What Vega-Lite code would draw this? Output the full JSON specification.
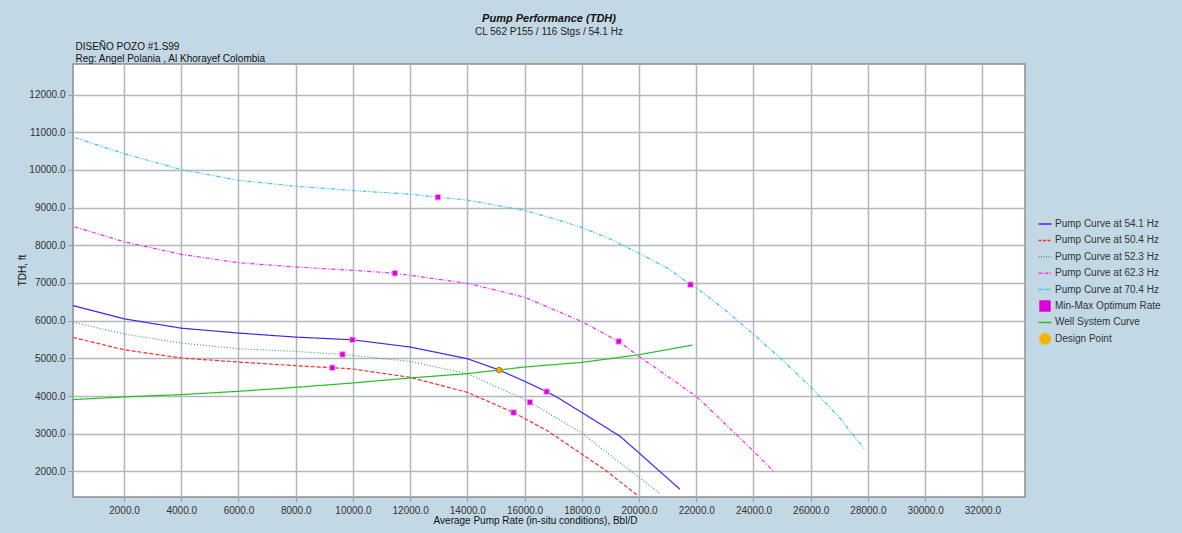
{
  "$schema": "https://vega.github.io/schema/vega-lite/v6.json",
  "width": 952,
  "height": 433,
  "autosize": {"type": "none"},
  "padding": {"left": 73, "top": 64, "right": 157, "bottom": 36},
  "background": "#c2d8e4",
  "config": {
    "font": "Liberation Sans",
    "view": {"fill": "white", "stroke": "#8c8c8c", "strokeWidth": 1.5}
  },
  "title": {
    "text": "Pump Performance (TDH)",
    "subtitle": "CL 562 P155 / 116 Stgs / 54.1 Hz",
    "anchor": "middle",
    "fontSize": 11,
    "fontStyle": "italic",
    "fontWeight": "bold",
    "color": "#111111",
    "subtitleFontSize": 10,
    "subtitleColor": "#222222",
    "subtitlePadding": 3,
    "offset": 4
  },
  "datasets": {
    "curves": [
      {"s": "Pump Curve at 54.1 Hz", "x": 220, "y": 6400},
      {"s": "Pump Curve at 54.1 Hz", "x": 2000, "y": 6048},
      {"s": "Pump Curve at 54.1 Hz", "x": 4000, "y": 5800},
      {"s": "Pump Curve at 54.1 Hz", "x": 6000, "y": 5670},
      {"s": "Pump Curve at 54.1 Hz", "x": 8000, "y": 5563},
      {"s": "Pump Curve at 54.1 Hz", "x": 9985, "y": 5492},
      {"s": "Pump Curve at 54.1 Hz", "x": 12000, "y": 5300},
      {"s": "Pump Curve at 54.1 Hz", "x": 14000, "y": 4990},
      {"s": "Pump Curve at 54.1 Hz", "x": 15110, "y": 4690},
      {"s": "Pump Curve at 54.1 Hz", "x": 16000, "y": 4390},
      {"s": "Pump Curve at 54.1 Hz", "x": 16770, "y": 4116},
      {"s": "Pump Curve at 54.1 Hz", "x": 17120, "y": 3975},
      {"s": "Pump Curve at 54.1 Hz", "x": 18000, "y": 3563},
      {"s": "Pump Curve at 54.1 Hz", "x": 19330, "y": 2935},
      {"s": "Pump Curve at 54.1 Hz", "x": 20000, "y": 2490},
      {"s": "Pump Curve at 54.1 Hz", "x": 21430, "y": 1524},
      {"s": "Pump Curve at 50.4 Hz", "x": 220, "y": 5553},
      {"s": "Pump Curve at 50.4 Hz", "x": 2000, "y": 5228},
      {"s": "Pump Curve at 50.4 Hz", "x": 4000, "y": 5008},
      {"s": "Pump Curve at 50.4 Hz", "x": 6000, "y": 4902},
      {"s": "Pump Curve at 50.4 Hz", "x": 8000, "y": 4804},
      {"s": "Pump Curve at 50.4 Hz", "x": 9280, "y": 4751},
      {"s": "Pump Curve at 50.4 Hz", "x": 10000, "y": 4717},
      {"s": "Pump Curve at 50.4 Hz", "x": 12000, "y": 4495},
      {"s": "Pump Curve at 50.4 Hz", "x": 14000, "y": 4098},
      {"s": "Pump Curve at 50.4 Hz", "x": 15615, "y": 3561},
      {"s": "Pump Curve at 50.4 Hz", "x": 16825, "y": 3066},
      {"s": "Pump Curve at 50.4 Hz", "x": 18000, "y": 2460},
      {"s": "Pump Curve at 50.4 Hz", "x": 18870, "y": 2008},
      {"s": "Pump Curve at 50.4 Hz", "x": 19970, "y": 1347},
      {"s": "Pump Curve at 52.3 Hz", "x": 220, "y": 5960},
      {"s": "Pump Curve at 52.3 Hz", "x": 2000, "y": 5643},
      {"s": "Pump Curve at 52.3 Hz", "x": 4000, "y": 5405},
      {"s": "Pump Curve at 52.3 Hz", "x": 6000, "y": 5254},
      {"s": "Pump Curve at 52.3 Hz", "x": 8000, "y": 5183},
      {"s": "Pump Curve at 52.3 Hz", "x": 9636, "y": 5103},
      {"s": "Pump Curve at 52.3 Hz", "x": 12000, "y": 4918},
      {"s": "Pump Curve at 52.3 Hz", "x": 14000, "y": 4593},
      {"s": "Pump Curve at 52.3 Hz", "x": 16000, "y": 3910},
      {"s": "Pump Curve at 52.3 Hz", "x": 16185, "y": 3833},
      {"s": "Pump Curve at 52.3 Hz", "x": 17990, "y": 3024},
      {"s": "Pump Curve at 52.3 Hz", "x": 19330, "y": 2230},
      {"s": "Pump Curve at 52.3 Hz", "x": 20730, "y": 1418},
      {"s": "Pump Curve at 62.3 Hz", "x": 276, "y": 8489},
      {"s": "Pump Curve at 62.3 Hz", "x": 2000, "y": 8093},
      {"s": "Pump Curve at 62.3 Hz", "x": 4000, "y": 7759},
      {"s": "Pump Curve at 62.3 Hz", "x": 6000, "y": 7537},
      {"s": "Pump Curve at 62.3 Hz", "x": 8000, "y": 7423},
      {"s": "Pump Curve at 62.3 Hz", "x": 10000, "y": 7336},
      {"s": "Pump Curve at 62.3 Hz", "x": 11465, "y": 7257},
      {"s": "Pump Curve at 62.3 Hz", "x": 12000, "y": 7200},
      {"s": "Pump Curve at 62.3 Hz", "x": 14000, "y": 6992},
      {"s": "Pump Curve at 62.3 Hz", "x": 16000, "y": 6622},
      {"s": "Pump Curve at 62.3 Hz", "x": 18000, "y": 5976},
      {"s": "Pump Curve at 62.3 Hz", "x": 19290, "y": 5447},
      {"s": "Pump Curve at 62.3 Hz", "x": 20000, "y": 5050},
      {"s": "Pump Curve at 62.3 Hz", "x": 21000, "y": 4521},
      {"s": "Pump Curve at 62.3 Hz", "x": 22000, "y": 3992},
      {"s": "Pump Curve at 62.3 Hz", "x": 23000, "y": 3270},
      {"s": "Pump Curve at 62.3 Hz", "x": 24000, "y": 2537},
      {"s": "Pump Curve at 62.3 Hz", "x": 24690, "y": 2008},
      {"s": "Pump Curve at 70.4 Hz", "x": 276, "y": 10854},
      {"s": "Pump Curve at 70.4 Hz", "x": 2000, "y": 10431},
      {"s": "Pump Curve at 70.4 Hz", "x": 4000, "y": 10008},
      {"s": "Pump Curve at 70.4 Hz", "x": 6000, "y": 9725},
      {"s": "Pump Curve at 70.4 Hz", "x": 8000, "y": 9566},
      {"s": "Pump Curve at 70.4 Hz", "x": 10000, "y": 9452},
      {"s": "Pump Curve at 70.4 Hz", "x": 12000, "y": 9354},
      {"s": "Pump Curve at 70.4 Hz", "x": 12970, "y": 9275},
      {"s": "Pump Curve at 70.4 Hz", "x": 14000, "y": 9200},
      {"s": "Pump Curve at 70.4 Hz", "x": 16000, "y": 8923},
      {"s": "Pump Curve at 70.4 Hz", "x": 17000, "y": 8710},
      {"s": "Pump Curve at 70.4 Hz", "x": 18000, "y": 8474},
      {"s": "Pump Curve at 70.4 Hz", "x": 19000, "y": 8164},
      {"s": "Pump Curve at 70.4 Hz", "x": 20000, "y": 7786},
      {"s": "Pump Curve at 70.4 Hz", "x": 21000, "y": 7390},
      {"s": "Pump Curve at 70.4 Hz", "x": 21800, "y": 6955},
      {"s": "Pump Curve at 70.4 Hz", "x": 22000, "y": 6876},
      {"s": "Pump Curve at 70.4 Hz", "x": 23000, "y": 6290},
      {"s": "Pump Curve at 70.4 Hz", "x": 24000, "y": 5640},
      {"s": "Pump Curve at 70.4 Hz", "x": 25000, "y": 4960},
      {"s": "Pump Curve at 70.4 Hz", "x": 26000, "y": 4240},
      {"s": "Pump Curve at 70.4 Hz", "x": 27000, "y": 3430},
      {"s": "Pump Curve at 70.4 Hz", "x": 27870, "y": 2600},
      {"s": "Well System Curve", "x": 220, "y": 3905},
      {"s": "Well System Curve", "x": 2000, "y": 3976},
      {"s": "Well System Curve", "x": 4000, "y": 4037},
      {"s": "Well System Curve", "x": 6000, "y": 4124},
      {"s": "Well System Curve", "x": 8000, "y": 4230},
      {"s": "Well System Curve", "x": 10000, "y": 4346},
      {"s": "Well System Curve", "x": 12000, "y": 4479},
      {"s": "Well System Curve", "x": 14000, "y": 4593},
      {"s": "Well System Curve", "x": 15110, "y": 4690},
      {"s": "Well System Curve", "x": 16000, "y": 4770},
      {"s": "Well System Curve", "x": 18000, "y": 4892},
      {"s": "Well System Curve", "x": 20000, "y": 5095},
      {"s": "Well System Curve", "x": 21870, "y": 5352}
    ],
    "optimum": [
      {"s": "Min-Max Optimum Rate", "x": 9985, "y": 5492},
      {"s": "Min-Max Optimum Rate", "x": 16770, "y": 4116},
      {"s": "Min-Max Optimum Rate", "x": 9280, "y": 4751},
      {"s": "Min-Max Optimum Rate", "x": 15615, "y": 3561},
      {"s": "Min-Max Optimum Rate", "x": 9636, "y": 5103},
      {"s": "Min-Max Optimum Rate", "x": 16185, "y": 3833},
      {"s": "Min-Max Optimum Rate", "x": 11465, "y": 7257},
      {"s": "Min-Max Optimum Rate", "x": 19290, "y": 5447},
      {"s": "Min-Max Optimum Rate", "x": 12970, "y": 9275},
      {"s": "Min-Max Optimum Rate", "x": 21800, "y": 6955}
    ],
    "design": [
      {"s": "Design Point", "x": 15110, "y": 4690}
    ]
  },
  "layer": [
    {
      "data": {"name": "curves"},
      "mark": {"type": "line", "strokeWidth": 1.2, "clip": true},
      "encoding": {
        "x": {
          "field": "x", "type": "quantitative",
          "scale": {"domain": [217, 33490], "nice": false, "zero": false},
          "axis": {
            "orient": "bottom",
            "values": [2000, 4000, 6000, 8000, 10000, 12000, 14000, 16000, 18000, 20000, 22000, 24000, 26000, 28000, 30000, 32000],
            "format": ".1f",
            "labelFontSize": 10, "labelColor": "#333333", "labelPadding": 3,
            "tickColor": "#9a9a9a", "tickSize": 5, "domain": false,
            "grid": true, "gridColor": "#b4b8bc", "gridWidth": 1.5,
            "title": "Average Pump Rate (in-situ conditions), Bbl/D",
            "titleFontSize": 10, "titleFontWeight": "normal", "titleColor": "#111111",
            "titleX": 462, "titleY": 26, "titleAlign": "center", "titleBaseline": "alphabetic"
          }
        },
        "y": {
          "field": "y", "type": "quantitative",
          "scale": {"domain": [1320, 12810], "nice": false, "zero": false},
          "axis": {
            "values": [2000, 3000, 4000, 5000, 6000, 7000, 8000, 9000, 10000, 11000, 12000],
            "format": ".1f",
            "labelFontSize": 10, "labelColor": "#333333", "labelPadding": 3,
            "tickColor": "#9a9a9a", "tickSize": 5, "domain": false,
            "grid": true, "gridColor": "#b4b8bc", "gridWidth": 1.5,
            "title": "TDH, ft",
            "titleFontSize": 10, "titleFontWeight": "normal", "titleColor": "#111111",
            "titleX": -51, "titleY": 206, "titleAlign": "center", "titleBaseline": "middle"
          }
        },
        "color": {
          "field": "s", "type": "nominal",
          "scale": {
            "domain": ["Pump Curve at 54.1 Hz", "Pump Curve at 50.4 Hz", "Pump Curve at 52.3 Hz", "Pump Curve at 62.3 Hz", "Pump Curve at 70.4 Hz", "Min-Max Optimum Rate", "Well System Curve", "Design Point"],
            "range": ["#4a22ee", "#ff2a2a", "#3f9d70", "#ff22ff", "#3cc4f0", "#dd00dd", "#22c022", "#f5b400"]
          },
          "legend": {
            "orient": "none", "legendX": 967, "legendY": 155,
            "title": null, "labelFontSize": 10, "labelColor": "#333333",
            "symbolSize": 169, "labelOffset": 5, "rowPadding": 0.4, "gridAlign": "all",
            "symbolType": "stroke", "symbolStrokeWidth": 1.5,
            "encode": {
              "symbols": {
                "update": {
                  "shape": {"signal": "datum.value == 'Min-Max Optimum Rate' ? 'square' : datum.value == 'Design Point' ? 'circle' : 'stroke'"},
                  "size": {"signal": "datum.value == 'Min-Max Optimum Rate' ? 110 : datum.value == 'Design Point' ? 121 : 169"},
                  "fill": {"signal": "datum.value == 'Min-Max Optimum Rate' ? '#e000e0' : datum.value == 'Design Point' ? '#f5b400' : 'transparent'"},
                  "stroke": {"signal": "datum.value == 'Min-Max Optimum Rate' ? '#a000a0' : datum.value == 'Design Point' ? '#c08000' : scale('color', datum.value)"},
                  "strokeWidth": {"signal": "datum.value == 'Min-Max Optimum Rate' || datum.value == 'Design Point' ? 1 : 1.5"},
                  "strokeDash": {"signal": "datum.value == 'Pump Curve at 50.4 Hz' ? [3, 1.5] : datum.value == 'Pump Curve at 52.3 Hz' ? [1, 1.5] : datum.value == 'Pump Curve at 62.3 Hz' ? [3, 1.5, 1, 1.5] : datum.value == 'Pump Curve at 70.4 Hz' ? [3, 1, 1, 1, 1, 1] : [1, 0]"},
                  "opacity": {"value": 1}
                }
              }
            }
          }
        },
        "strokeDash": {
          "field": "s", "type": "nominal",
          "scale": {
            "domain": ["Pump Curve at 54.1 Hz", "Pump Curve at 50.4 Hz", "Pump Curve at 52.3 Hz", "Pump Curve at 62.3 Hz", "Pump Curve at 70.4 Hz", "Well System Curve"],
            "range": [[1, 0], [4, 2], [1, 2], [4, 2, 1, 2], [4, 1.5, 1, 1.5, 1, 1.5], [1, 0]]
          },
          "legend": null
        }
      }
    },
    {
      "data": {"name": "optimum"},
      "mark": {"type": "point", "shape": "square", "filled": true, "size": 30, "opacity": 1, "stroke": "#f0a8f0", "strokeWidth": 1},
      "encoding": {
        "x": {"field": "x", "type": "quantitative", "axis": null},
        "y": {"field": "y", "type": "quantitative"},
        "color": {"field": "s", "type": "nominal"}
      }
    },
    {
      "data": {"name": "design"},
      "mark": {"type": "point", "shape": "circle", "filled": true, "size": 30, "opacity": 1, "stroke": "#b07800", "strokeWidth": 1},
      "encoding": {
        "x": {
          "field": "x", "type": "quantitative",
          "axis": {
            "orient": "top", "labels": false, "ticks": false, "domain": false, "grid": false,
            "title": ["DISEÑO POZO #1.S99", "Reg: Angel Polania ,  Al Khorayef Colombia"],
            "titleAnchor": "start", "titleAlign": "left", "titleX": 2, "titleY": -15,
            "titleBaseline": "alphabetic", "titleFontSize": 10, "titleFontWeight": "normal",
            "titleColor": "#111111", "titleLineHeight": 12.5
          }
        },
        "y": {"field": "y", "type": "quantitative"},
        "color": {"field": "s", "type": "nominal"}
      }
    }
  ],
  "resolve": {"axis": {"x": "independent"}}
}
